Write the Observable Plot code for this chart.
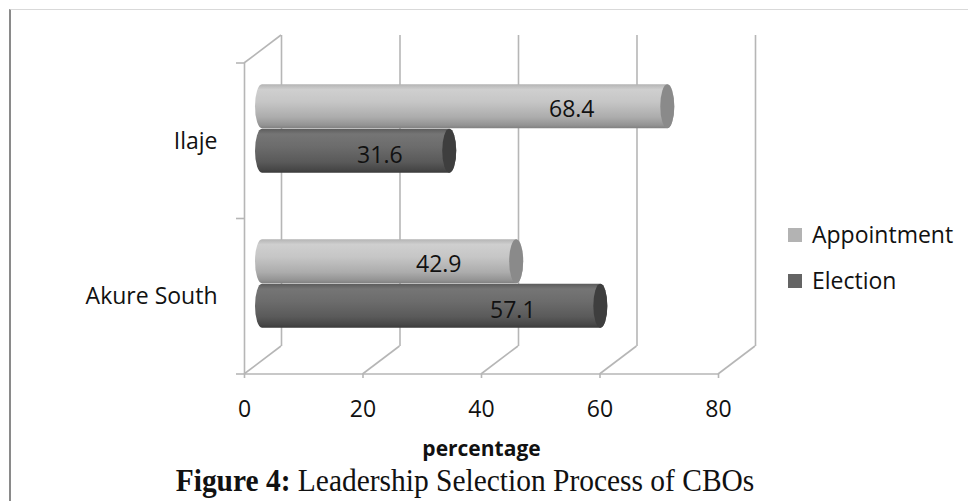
<!DOCTYPE html>
<html>
<head>
<meta charset="utf-8">
<script src="https://cdn.jsdelivr.net/npm/d3@7"></script>
<script src="https://cdn.jsdelivr.net/npm/@observablehq/plot@0.6"></script>
<style>
  html, body { margin: 0; padding: 0; background: #fff; }
  #wrap { position: relative; width: 968px; height: 501px; overflow: hidden; }
  #border { position: absolute; left: 9px; top: 9px; width: 980px; height: 520px;
            border-top: 1px solid #d9d9d9; border-left: 2px solid #8a8a8a; }
  #chart { position: absolute; left: 0; top: 0; }
  .legend-row { position: absolute; left: 788px; height: 24px; font-family: "Open Sans"; font-size: 23px;
                line-height: 24px; color: #111; white-space: nowrap; }
  .legend-row .sw { position: absolute; left: 0; top: 6px; width: 14px; height: 14px; }
  .legend-row .lb { position: absolute; left: 24px; top: 0; }
  #caption { position: absolute; left: 0; width: 930px; top: 466px; text-align: center;
             font-family: "Liberation Serif", "Times New Roman", serif; font-size: 31px; line-height: 30px;
             color: #111; white-space: nowrap; transform: scaleX(0.95); transform-origin: 465px 0; }
</style>
</head>
<body>
<div id="wrap">
  <div id="border"></div>
  <div id="chart"></div>
  <div id="legend"></div>
  <div id="caption"></div>
</div>
<script>
// ---- data ----
const categories = ["Ilaje", "Akure South"];
const seriesNames = ["Appointment", "Election"];
const appointmentValues = [68.4, 42.9];
const electionValues = [31.6, 57.1];
const xTicks = [0, 20, 40, 60, 80];
const xLabel = "percentage";
const captionBold = "Figure 4:";
const captionText = " Leadership Selection Process of CBOs";

const rows = [];
categories.forEach((c, i) => {
  rows.push({category: c, series: "Appointment", value: appointmentValues[i]});
  rows.push({category: c, series: "Election", value: electionValues[i]});
});

// ---- style ----
const look = {
  Appointment: {grad: "url(#gAppt)", cap: "#8a8a8a", insetTop: 33.25, insetBottom: 77.75, labelDy: -32.7, swatch: "#b3b3b3"},
  Election:    {grad: "url(#gElec)", cap: "#3e3e3e", insetTop: 77.75, insetBottom: 33.25, labelDy: 14,    swatch: "#646464"}
};
const PLANE_DX = 18, PLANE_DY = -13;   // bars sit on a mid-depth plane
const BACK_DX = 37, BACK_DY = -28;     // back wall offset
const CAP_RX = 7, CAP_RY = 22.25;
const WALL = "#b6b6b6";

const marks = [
  Plot.ruleX(xTicks, {dx: BACK_DX, dy: BACK_DY, stroke: WALL, strokeWidth: 1.6}),
  Plot.ruleX([0], {stroke: WALL, strokeWidth: 1.6}),
  Plot.axisX({ticks: xTicks, tickSize: 4, tickPadding: 22, stroke: WALL, strokeWidth: 1.6, fill: "#111", label: null}),
  Plot.axisY({tickSize: 0, tickPadding: 27, fill: "#111", label: null}),
  Plot.text([xLabel], {frameAnchor: "bottom", lineAnchor: "middle", dy: 75, fontWeight: "bold", fontSize: 21, fill: "#111"})
];
for (const s of seriesNames) {
  const L = look[s];
  const data = rows.filter(r => r.series === s);
  const geom = {y: "category", insetTop: L.insetTop, insetBottom: L.insetBottom,
                insetLeft: -CAP_RX, insetRight: -CAP_RX, rx: CAP_RX, ry: CAP_RY, dx: PLANE_DX, dy: PLANE_DY};
  marks.push(Plot.barX(data, {x: "value", fill: L.grad, ...geom}));
  marks.push(Plot.barX(data, {x1: "value", x2: "value", fill: L.cap, ...geom}));
  marks.push(Plot.text(data, {x: d => d.value * 0.88 - 8, y: "category", text: d => d.value.toFixed(1),
                              dx: PLANE_DX, dy: L.labelDy, fill: "#111"}));
}

const chart = Plot.plot({
  width: 968,
  height: 501,
  marginLeft: 244,
  marginRight: 250,
  marginTop: 63,
  marginBottom: 127,
  style: {fontFamily: "Open Sans", fontSize: "23px", color: "#111", background: "transparent", overflow: "visible"},
  x: {domain: [0, 80]},
  y: {type: "band", domain: categories, padding: 0},
  marks
});

// gradients for the cylinders
const svg = d3.select(chart);
const defs = svg.insert("defs", ":first-child");
function grad(id, stops) {
  const g = defs.append("linearGradient").attr("id", id).attr("x1", 0).attr("y1", 0).attr("x2", 0).attr("y2", 1);
  stops.forEach(([o, c]) => g.append("stop").attr("offset", o).attr("stop-color", c));
}
grad("gAppt", [[0, "#b4b4b4"], [0.12, "#cfcfcf"], [0.4, "#c6c6c6"], [0.75, "#acacac"], [0.93, "#939393"], [1, "#808080"]]);
grad("gElec", [[0, "#5c5c5c"], [0.12, "#757575"], [0.4, "#6c6c6c"], [0.75, "#5a5a5a"], [0.93, "#474747"], [1, "#3a3a3a"]]);

// 3D wall decorations drawn from Plot's own scales
const xs = chart.scale("x"), ys = chart.scale("y");
const X = v => xs.apply(v);
const [yTop, yBot] = ys.range;
const deco = svg.insert("g", "g").attr("stroke", WALL).attr("stroke-width", 1.6).attr("fill", "none");
xTicks.forEach(t => deco.append("line").attr("x1", X(t)).attr("y1", yBot).attr("x2", X(t) + BACK_DX).attr("y2", yBot + BACK_DY));
deco.append("line").attr("x1", X(0)).attr("y1", yTop).attr("x2", X(0) + BACK_DX).attr("y2", yTop + BACK_DY);
deco.append("line").attr("x1", X(0)).attr("y1", yBot).attr("x2", X(xTicks[xTicks.length - 1])).attr("y2", yBot);
d3.range(categories.length + 1).forEach(i => {
  const y = yTop + i * (yBot - yTop) / categories.length;
  deco.append("line").attr("x1", X(0) - 8).attr("y1", y).attr("x2", X(0)).attr("y2", y);
});

document.getElementById("chart").appendChild(chart);

// legend
const legendTops = [222, 268];
const legend = d3.select("#legend");
seriesNames.forEach((s, i) => {
  const row = legend.append("div").attr("class", "legend-row").style("top", legendTops[i] + "px");
  row.append("div").attr("class", "sw").style("background", look[s].swatch);
  row.append("div").attr("class", "lb").text(s);
});

// caption
const cap = d3.select("#caption");
cap.append("b").text(captionBold);
cap.append("span").text(captionText);
</script>
</body>
</html>
